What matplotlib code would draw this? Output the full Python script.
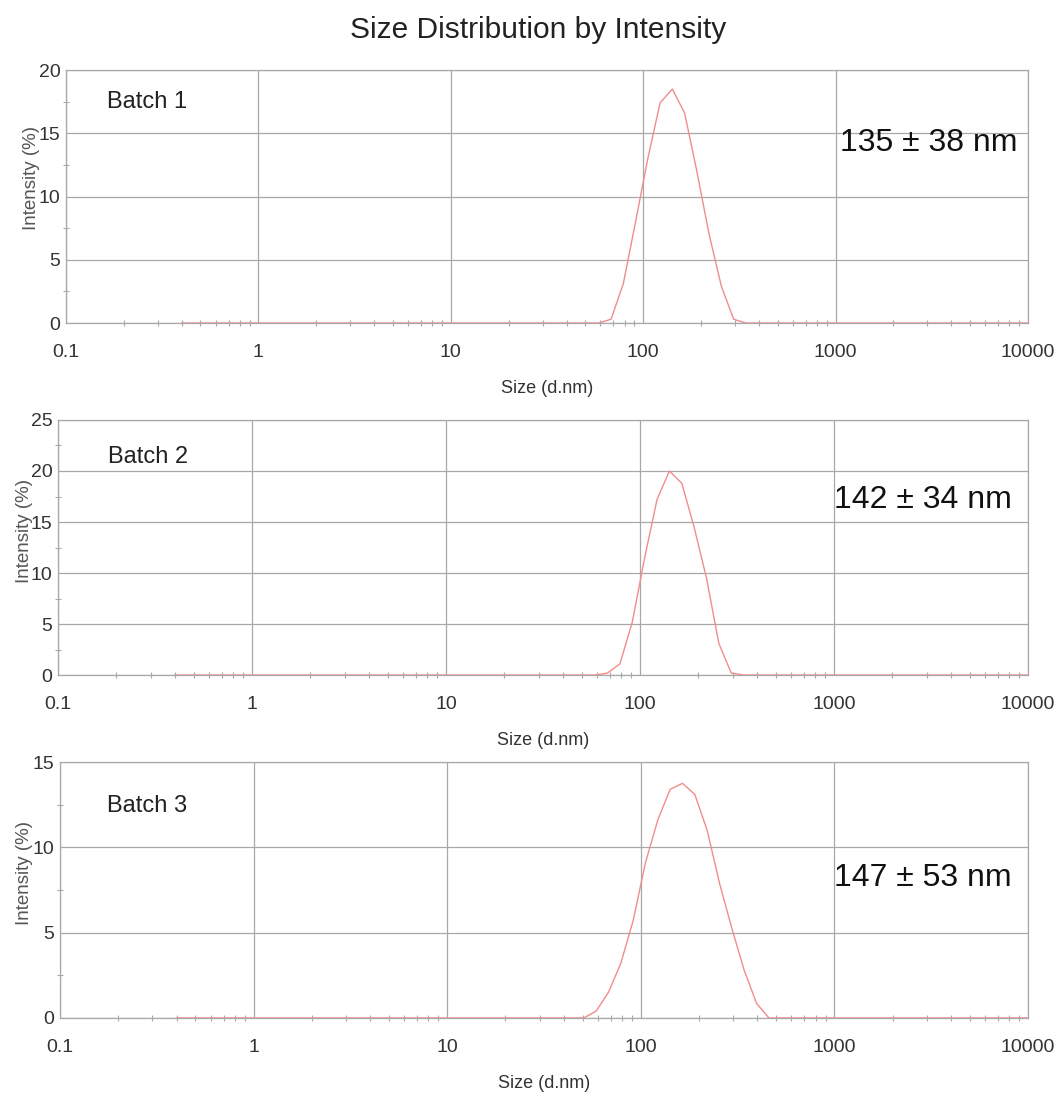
import numpy as np
import matplotlib
matplotlib.use('Agg')
import matplotlib.pyplot as plt
from matplotlib.ticker import LogLocator, MultipleLocator, FixedLocator, FixedFormatter

# size classes (d.nm) and intensity (%)
sizes = [0.4, 50.75, 58.77, 68.06, 78.82, 91.28, 105.7, 122.4, 141.8, 164.2,
         190.1, 220.2, 255.0, 295.3, 342.0, 396.1, 458.7, 531.2, 10000]
batch1 = [0, 0, 0, 0.3, 3.1, 8.0, 13.0, 17.4, 18.5, 16.6,
          12.0, 7.0, 2.9, 0.3, 0, 0, 0, 0, 0]
batch2 = [0, 0, 0, 0.2, 1.1, 5.2, 11.5, 17.2, 20.0, 18.8,
          14.5, 9.5, 3.1, 0.2, 0, 0, 0, 0, 0]
batch3 = [0, 0, 0.4, 1.5, 3.2, 5.7, 9.1, 11.6, 13.4, 13.75,
          13.1, 11.0, 7.9, 5.25, 2.8, 0.86, 0, 0, 0]

names = ['Batch 1', 'Batch 2', 'Batch 3']
notes = ['135 \u00b1 38 nm', '142 \u00b1 34 nm', '147 \u00b1 53 nm']
ymax = [20, 25, 15]
xticks = [0.1, 1, 10, 100, 1000, 10000]
xlabels = ['0.1', '1', '10', '100', '1000', '10000']

plt.rcParams['font.family'] = ['Liberation Sans', 'DejaVu Sans']

fig = plt.figure(figsize=(10.59, 10.98), dpi=100)
fig.text(0.508, 0.9727, 'Size Distribution by Intensity', ha='center', va='center',
         fontsize=21.5, color='#222222')

# [left, bottom, width, height] of each panel
boxes = [[0.0623, 0.7058, 0.9084, 0.2304],
         [0.0548, 0.3852, 0.9159, 0.2323],
         [0.0567, 0.0729, 0.9140, 0.2331]]
note_pos = [(0.805, 0.71), (0.80, 0.686), (0.80, 0.547)]
name_pos = [(0.043, 0.875), (0.051, 0.855), (0.049, 0.83)]
ylab_pos = [(-0.027, 0.573), (-0.026, 0.565), (-0.028, 0.566)]

grey = '#a8a8a8'
for i, data in enumerate([batch1, batch2, batch3]):
	ax = fig.add_axes(boxes[i])
	ax.set_xscale('log')
	ax.set_xlim(0.1, 10000)
	ax.set_ylim(0, ymax[i])
	ax.plot(sizes, data, color='#f28c8c', lw=1.0, zorder=3)

	ax.xaxis.set_major_locator(FixedLocator(xticks))
	ax.xaxis.set_major_formatter(FixedFormatter(xlabels))
	ax.xaxis.set_minor_locator(LogLocator(base=10, subs=np.arange(2, 10)))
	ax.xaxis.set_minor_formatter(plt.NullFormatter())
	ax.yaxis.set_major_locator(MultipleLocator(5))
	ax.yaxis.set_minor_locator(MultipleLocator(2.5))

	ax.grid(True, which='major', color=grey, lw=0.9)
	ax.tick_params(which='major', length=0, labelsize=14, colors='#333333', pad=4)
	ax.tick_params(axis='x', which='major', pad=15)
	ax.tick_params(which='minor', direction='inout', length=4, color=grey, width=0.8)
	for s in ax.spines.values():
		s.set_color(grey)
		s.set_linewidth(0.9)

	ax.set_xlabel('Size (d.nm)', fontsize=13, color='#333333', labelpad=14)
	ax.set_ylabel('Intensity (%)', fontsize=13.5, color='#555555')
	ax.yaxis.set_label_coords(*ylab_pos[i])

	ax.text(name_pos[i][0], name_pos[i][1], names[i], transform=ax.transAxes,
	        fontsize=17, color='#222222', va='center')
	ax.text(note_pos[i][0], note_pos[i][1], notes[i], transform=ax.transAxes,
	        fontsize=23, color='#111111', va='center')

fig.savefig('out.png', dpi=100)
